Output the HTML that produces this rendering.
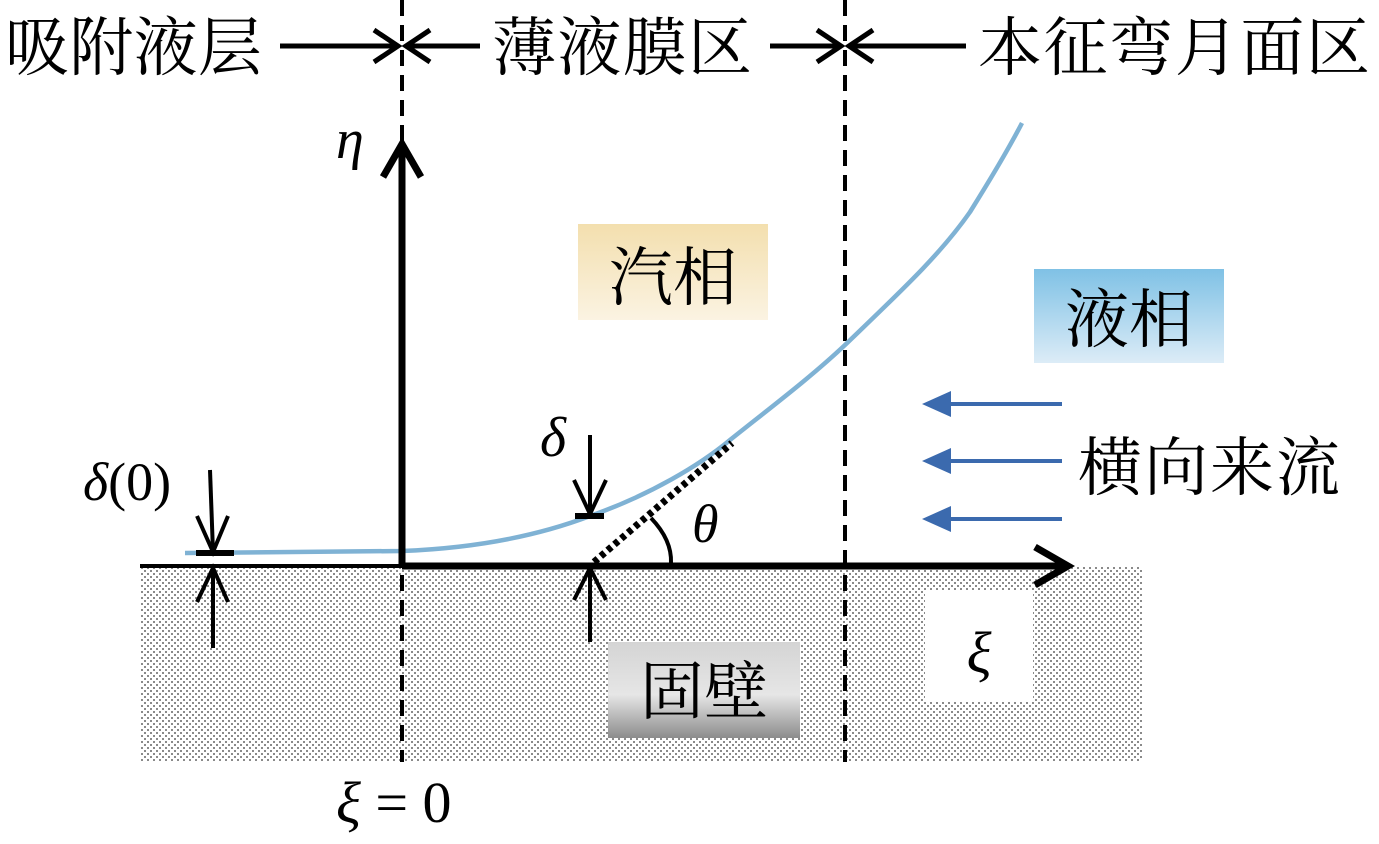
<!DOCTYPE html>
<html><head><meta charset="utf-8"><style>
html,body{margin:0;padding:0;background:#fff;}
svg{display:block;}
text{font-family:"Liberation Serif","Noto Serif CJK SC",serif;}
</style></head><body>
<svg width="1379" height="844" viewBox="0 0 1379 844" xmlns="http://www.w3.org/2000/svg">
<defs>
<pattern id="dots" width="6" height="6" patternUnits="userSpaceOnUse">
<rect width="6" height="6" fill="#fff"/>
<rect x="0" y="0" width="2" height="2" fill="#8a8a8a"/>
<rect x="3" y="3" width="2" height="2" fill="#8a8a8a"/>
</pattern>
<linearGradient id="vap" x1="0" y1="0" x2="0" y2="1"><stop offset="0" stop-color="#f3dfae"/><stop offset="1" stop-color="#fbf3e2"/></linearGradient>
<linearGradient id="liq" x1="0" y1="0" x2="0" y2="1"><stop offset="0" stop-color="#7fc1e5"/><stop offset="1" stop-color="#dcecf7"/></linearGradient>
<linearGradient id="wall" x1="0" y1="0" x2="0" y2="1"><stop offset="0" stop-color="#d4d4d4"/><stop offset="0.55" stop-color="#e6e6e6"/><stop offset="1" stop-color="#8c8c8c"/></linearGradient>
</defs>
<rect x="140" y="566" width="1003" height="196" fill="url(#dots)"/>
<rect x="925" y="590" width="108" height="112" fill="#fff"/>
<text x="979" y="672" font-size="58" font-style="italic" text-anchor="middle">ξ</text>
<rect x="608" y="642" width="192" height="96" fill="url(#wall)"/>
<text x="704" y="714" font-size="64" text-anchor="middle">固壁</text>
<rect x="578" y="224" width="190" height="96" fill="url(#vap)"/>
<text x="673" y="300" font-size="64" text-anchor="middle">汽相</text>
<rect x="1034" y="269" width="190" height="94" fill="url(#liq)"/>
<text x="1129" y="342" font-size="64" text-anchor="middle">液相</text>
<line x1="402" y1="0" x2="402" y2="762" stroke="#000" stroke-width="4" stroke-dasharray="16,9"/>
<line x1="845" y1="0" x2="845" y2="762" stroke="#000" stroke-width="4" stroke-dasharray="16,9"/>
<text x="5" y="70" font-size="64" textLength="257">吸附液层</text>
<text x="492" y="70" font-size="64" textLength="260">薄液膜区</text>
<text x="978" y="70" font-size="64" textLength="392">本征弯月面区</text>
<g stroke="#000" stroke-width="5" fill="none">
<line x1="280" y1="46" x2="398" y2="46"/><polyline points="374,30 398,46 374,62"/>
<line x1="406" y1="46" x2="480" y2="46"/><polyline points="430,30 406,46 430,62"/>
<line x1="770" y1="46" x2="841" y2="46"/><polyline points="817,30 841,46 817,62"/>
<line x1="849" y1="46" x2="966" y2="46"/><polyline points="873,30 849,46 873,62"/>
</g>
<path d="M185,553 L402,551 C480,548 540,535 590,516 C650,495 700,465 730,440 C770,408 810,378 845,345 C900,292 940,255 970,212 C990,180 1008,150 1022,123" fill="none" stroke="#7fb2d4" stroke-width="4.5"/>
<line x1="140" y1="566" x2="402" y2="566" stroke="#000" stroke-width="4"/>
<line x1="402" y1="566" x2="1068" y2="566" stroke="#000" stroke-width="7"/>
<polyline points="1035,547 1068,566 1035,585" fill="none" stroke="#000" stroke-width="7"/>
<line x1="402" y1="568" x2="402" y2="144" stroke="#000" stroke-width="7"/>
<polyline points="383,177 402,144 421,177" fill="none" stroke="#000" stroke-width="7"/>
<text x="336" y="158" font-size="56" font-style="italic">η</text>
<g stroke="#000" stroke-width="4" fill="none">
<line x1="210" y1="470" x2="213" y2="552"/>
<polyline points="197,516 213,552 228,516"/>
<line x1="196" y1="553" x2="234" y2="553" stroke-width="6"/>
<line x1="213" y1="566" x2="213" y2="648"/>
<polyline points="197,602 213,568 228,602"/>
<line x1="590" y1="435" x2="590" y2="514"/>
<polyline points="574,480 590,514 606,480"/>
<line x1="575" y1="516" x2="604" y2="516" stroke-width="6"/>
<line x1="590" y1="566" x2="590" y2="642"/>
<polyline points="574,600 590,568 606,600"/>
<path d="M651,518 Q672,540 671,563"/>
</g>
<line x1="594" y1="562" x2="732" y2="443" stroke="#000" stroke-width="7" stroke-dasharray="5,4"/>
<text x="540" y="456" font-size="56" font-style="italic">δ</text>
<text x="83" y="500" font-size="54"><tspan font-style="italic">δ</tspan>(0)</text>
<text x="692" y="542" font-size="54" font-style="italic">θ</text>
<text x="336" y="822" font-size="58"><tspan font-style="italic">ξ</tspan> = 0</text>
<g fill="#3b6aae" stroke="#3b6aae">
<line x1="945" y1="404" x2="1062" y2="404" stroke-width="4"/><polygon points="922,404 951,391 951,417" stroke="none"/>
<line x1="945" y1="461" x2="1062" y2="461" stroke-width="4"/><polygon points="922,461 951,448 951,474" stroke="none"/>
<line x1="945" y1="519" x2="1062" y2="519" stroke-width="4"/><polygon points="922,519 951,506 951,532" stroke="none"/>
</g>
<text x="1078" y="490" font-size="64" textLength="262">横向来流</text>
</svg>
</body></html>
